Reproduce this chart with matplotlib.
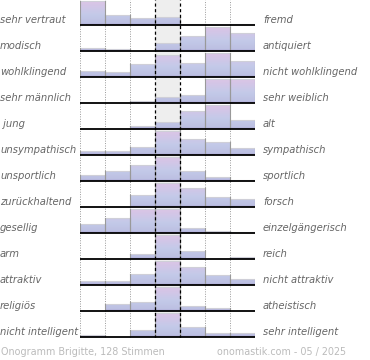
import numpy as np
import matplotlib
matplotlib.use('Agg')
import matplotlib.pyplot as plt
from matplotlib.colors import LinearSegmentedColormap
from matplotlib.patches import Polygon, Rectangle

# Onogramm data: share of votes per column (max of each row = 1)
left_labels = ['sehr vertraut', 'modisch', 'wohlklingend', 'sehr männlich', ' jung',
               'unsympathisch', 'unsportlich', 'zurückhaltend', 'gesellig', 'arm',
               'attraktiv', 'religiös', 'nicht intelligent']
right_labels = ['fremd', 'antiquiert', 'nicht wohlklingend', 'sehr weiblich', 'alt',
                'sympathisch', 'sportlich', 'forsch', 'einzelgängerisch', 'reich',
                'nicht attraktiv', 'atheistisch', 'sehr intelligent']
values = [
    [1.00, 0.41, 0.29, 0.32, 0.05, 0.00, 0.05],
    [0.14, 0.08, 0.00, 0.33, 0.62, 1.00, 0.76],
    [0.27, 0.19, 0.55, 0.93, 0.57, 1.00, 0.65],
    [0.00, 0.00, 0.07, 0.27, 0.35, 1.00, 1.00],
    [0.00, 0.00, 0.13, 0.28, 0.76, 1.00, 0.38],
    [0.16, 0.16, 0.32, 1.00, 0.68, 0.55, 0.30],
    [0.27, 0.43, 0.67, 1.00, 0.43, 0.15, 0.05],
    [0.00, 0.00, 0.51, 1.00, 0.79, 0.41, 0.33],
    [0.36, 0.63, 1.00, 1.00, 0.19, 0.09, 0.05],
    [0.00, 0.00, 0.19, 1.00, 0.33, 0.00, 0.07],
    [0.17, 0.17, 0.44, 1.00, 0.73, 0.43, 0.27],
    [0.00, 0.28, 0.36, 1.00, 0.19, 0.12, 0.00],
    [0.09, 0.00, 0.31, 1.00, 0.43, 0.15, 0.15],
]
footer_left = 'Onogramm Brigitte, 128 Stimmen'
footer_right = 'onomastik.com - 05 / 2025'

n_rows = len(values)
n_cols = 7
base_off = 1 / 26
full_h = 24 / 26
txt_col = '#666666'

cmap = LinearSegmentedColormap.from_list(
    'ono', [(0.0, '#a9a3d3'), (0.08, '#bcc0e2'), (0.45, '#c4cae9'),
            (0.8, '#d3c6e7'), (1.0, '#dcc5e6')])
grad = np.linspace(0, 1, 64).reshape(-1, 1)

fig = plt.figure(figsize=(3.7, 3.6), dpi=100)
ax = fig.add_axes([80 / 370, 22 / 360, 175 / 370, 338 / 360])
ax.set_xlim(0, n_cols)
ax.set_ylim(0, n_rows)
ax.axis('off')

# grey middle column
ax.add_patch(Rectangle((3, 0), 1, n_rows, color='#eeeeee', zorder=0, lw=0))

for i, row in enumerate(values):
    base = n_rows - 1 - i + base_off
    hs = [v * full_h for v in row]
    verts = [(0, base)]
    for j, h in enumerate(hs):
        verts += [(j, base + h), (j + 1, base + h)]
    verts.append((n_cols, base))
    poly = Polygon(verts, closed=True, fc='none', ec='none')
    ax.add_patch(poly)
    im = ax.imshow(grad, cmap=cmap, origin='lower', aspect='auto',
                   extent=[0, n_cols, base, base + full_h], zorder=2)
    im.set_clip_path(poly)
    for j, h in enumerate(hs):
        if h <= 0:
            continue
        ax.plot([j, j + 1], [base + h, base + h], color='#cfcfd8', lw=0.8, zorder=3)
        ax.plot([j, j], [base, base + h], color='#9a9a9a', lw=0.8, zorder=3)
        ax.plot([j + 1, j + 1], [base, base + h], color='#9a9a9a', lw=0.8, zorder=3)
    ax.plot([0, n_cols], [base, base], color='black', lw=1.3, zorder=5,
            solid_capstyle='butt')
    ty = base + 5 / 26
    ax.text(-80 / 25, ty, left_labels[i], ha='left', va='center', fontsize=7.2,
            style='italic', color=txt_col, clip_on=False)
    ax.text(n_cols + 8 / 25, ty, right_labels[i], ha='left', va='center', fontsize=7.2,
            style='italic', color=txt_col, clip_on=False)

for x in [0, 1, 2, 5, 6, 7]:
    ax.plot([x, x], [0, n_rows], color='#999999', lw=0.7, ls=(0, (1, 1.5)), zorder=4)
for x in [3, 4]:
    ax.plot([x, x], [0, n_rows], color='black', lw=0.9, ls=(0, (2.5, 2)), zorder=6)

fig.text(1 / 370, 1 - 352 / 360, footer_left, ha='left', va='center',
         fontsize=6.9, color='#bbbbbb')
fig.text(346 / 370, 1 - 352 / 360, footer_right, ha='right', va='center',
         fontsize=6.9, color='#bbbbbb')

fig.savefig('out.png', dpi=100)
